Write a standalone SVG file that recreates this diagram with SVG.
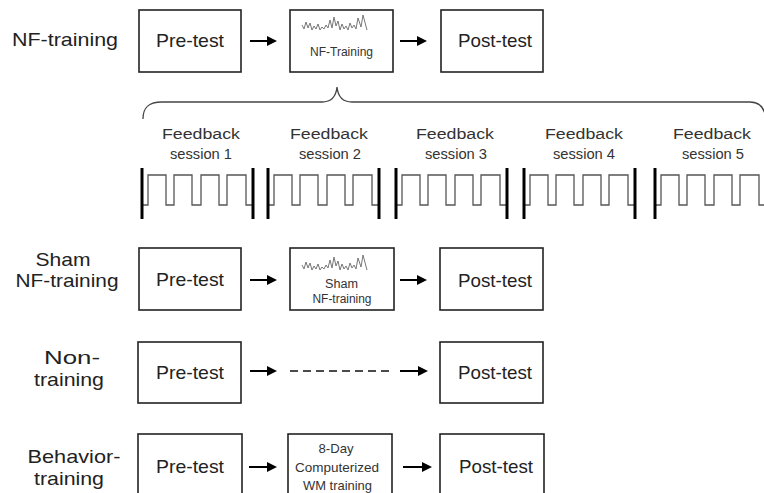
<svg xmlns="http://www.w3.org/2000/svg" xmlns:xlink="http://www.w3.org/1999/xlink" width="764" height="493" viewBox="0 0 764 493">
  <style>
    text { font-family: "Liberation Sans", Arial, sans-serif; fill: #222; }
    .lbl { font-size: 19px; text-anchor: middle; }
    .big { font-size: 19px; text-anchor: middle; }
    .small { font-size: 12px; text-anchor: middle; fill: #333; }
    .sess { font-size: 15.5px; text-anchor: middle; fill: #333; }
    .box { fill: #fff; stroke: #222; stroke-width: 1.6; }
    .arrow { stroke: #000; stroke-width: 2; fill: none; marker-end: url(#head); }
    .dash { stroke: #111; stroke-width: 1.6; stroke-dasharray: 8 5; fill: none; }
    .eeg { fill: none; stroke: #777; stroke-width: 1; stroke-linejoin: miter; }
    .brace { fill: none; stroke: #444; stroke-width: 1.3; }
    .pulse { fill: none; stroke: #555; stroke-width: 1.3; }
    .bar { stroke: #000; stroke-width: 3; }
  </style>
  <defs>
    <marker id="head" markerUnits="userSpaceOnUse" markerWidth="10" markerHeight="10" refX="5" refY="5" orient="auto">
      <path d="M0,0 L10,5 L0,10 Z" fill="#000"/>
    </marker>
    <!-- squiggly EEG trace shown inside the training boxes -->
    <path id="trace" class="eeg" d="M0,10 L2,14 L4,7 L6,13 L8,8 L10,15 L12,11 L14,14 L16,9 L18,15 L20,12 L22,14 L24,10 L26,13 L28,5 L30,13 L32,2 L34,11 L36,6 L38,15 L40,9 L42,14 L44,11 L46,15 L48,8 L50,13 L52,10 L54,14 L56,3 L59,12 L61,0 L65,15"/>
    <!-- one feedback session: block pulses between two thick bars -->
    <g id="session">
      <path class="pulse" d="M0,205 H6 V175 H24 V205 H32 V175 H50 V205 H59 V175 H77 V205 H85 V175 H104 V205 H111"/>
      <line class="bar" x1="0" y1="168" x2="0" y2="219"/>
      <line class="bar" x1="111" y1="168" x2="111" y2="219"/>
    </g>
  </defs>

  <rect width="764" height="493" fill="#fff"/>

  <!-- group labels -->
  <g id="labels">
    <text class="lbl" x="65" y="46" textLength="106" lengthAdjust="spacingAndGlyphs">NF-training</text>
    <text class="lbl" x="63" y="266" textLength="55" lengthAdjust="spacingAndGlyphs">Sham</text>
    <text class="lbl" x="67" y="287" textLength="103" lengthAdjust="spacingAndGlyphs">NF-training</text>
    <text class="lbl" x="72" y="364" textLength="56" lengthAdjust="spacingAndGlyphs">Non-</text>
    <text class="lbl" x="69" y="386" textLength="70" lengthAdjust="spacingAndGlyphs">training</text>
    <text class="lbl" x="74" y="463" textLength="93" lengthAdjust="spacingAndGlyphs">Behavior-</text>
    <text class="lbl" x="69" y="485" textLength="70" lengthAdjust="spacingAndGlyphs">training</text>
  </g>

  <!-- row 1: NF-training -->
  <g id="nf-pre">
    <rect class="box" x="139" y="10" width="102" height="62"/>
    <text class="big" x="190" y="47" textLength="68" lengthAdjust="spacingAndGlyphs">Pre-test</text>
  </g>
  <g id="nf-train">
    <rect class="box" x="290" y="10" width="103" height="62"/>
    <use xlink:href="#trace" x="302" y="15"/>
    <text class="small" x="341.5" y="56" textLength="63" lengthAdjust="spacingAndGlyphs">NF-Training</text>
  </g>
  <g id="nf-post">
    <rect class="box" x="441" y="10" width="102" height="62"/>
    <text class="big" x="495" y="47" textLength="74" lengthAdjust="spacingAndGlyphs">Post-test</text>
  </g>

  <!-- brace expanding the training block into sessions -->
  <g id="brace">
    <path class="brace" d="M143,119 C143,108 148,102 162,102 H322 C331,102 336,97 337,87 C338,97 343,102 352,102 H750 C758,102 763,106 765,114"/>
  </g>

  <!-- feedback sessions -->
  <g id="session-1">
    <text class="sess" x="201" y="139" textLength="78" lengthAdjust="spacingAndGlyphs">Feedback</text>
    <text class="sess" x="201" y="159" textLength="62" lengthAdjust="spacingAndGlyphs">session 1</text>
    <use xlink:href="#session" x="142"/>
  </g>
  <g id="session-2">
    <text class="sess" x="329" y="139" textLength="78" lengthAdjust="spacingAndGlyphs">Feedback</text>
    <text class="sess" x="330" y="159" textLength="62" lengthAdjust="spacingAndGlyphs">session 2</text>
    <use xlink:href="#session" x="268"/>
  </g>
  <g id="session-3">
    <text class="sess" x="455" y="139" textLength="78" lengthAdjust="spacingAndGlyphs">Feedback</text>
    <text class="sess" x="456" y="159" textLength="62" lengthAdjust="spacingAndGlyphs">session 3</text>
    <use xlink:href="#session" x="396"/>
  </g>
  <g id="session-4">
    <text class="sess" x="584" y="139" textLength="78" lengthAdjust="spacingAndGlyphs">Feedback</text>
    <text class="sess" x="584" y="159" textLength="62" lengthAdjust="spacingAndGlyphs">session 4</text>
    <use xlink:href="#session" x="524"/>
  </g>
  <g id="session-5">
    <text class="sess" x="712" y="139" textLength="78" lengthAdjust="spacingAndGlyphs">Feedback</text>
    <text class="sess" x="713" y="159" textLength="62" lengthAdjust="spacingAndGlyphs">session 5</text>
    <use xlink:href="#session" x="655"/>
  </g>

  <!-- row 2: sham NF-training -->
  <g id="sham-pre">
    <rect class="box" x="139" y="248" width="102" height="62"/>
    <text class="big" x="190" y="286" textLength="68" lengthAdjust="spacingAndGlyphs">Pre-test</text>
  </g>
  <g id="sham-train">
    <rect class="box" x="290" y="248" width="104" height="62"/>
    <use xlink:href="#trace" x="302" y="255"/>
    <text class="small" x="341.5" y="288" textLength="33" lengthAdjust="spacingAndGlyphs">Sham</text>
    <text class="small" x="342" y="303" textLength="59" lengthAdjust="spacingAndGlyphs">NF-training</text>
  </g>
  <g id="sham-post">
    <rect class="box" x="440" y="248" width="103" height="62"/>
    <text class="big" x="495" y="287" textLength="74" lengthAdjust="spacingAndGlyphs">Post-test</text>
  </g>

  <!-- row 3: non-training -->
  <g id="non-pre">
    <rect class="box" x="138" y="342" width="103" height="61"/>
    <text class="big" x="190" y="379" textLength="68" lengthAdjust="spacingAndGlyphs">Pre-test</text>
  </g>
  <g id="non-post">
    <rect class="box" x="440" y="342" width="103" height="61"/>
    <text class="big" x="495" y="379" textLength="74" lengthAdjust="spacingAndGlyphs">Post-test</text>
  </g>

  <!-- row 4: behavior-training -->
  <g id="beh-pre">
    <rect class="box" x="138" y="434" width="104" height="70"/>
    <text class="big" x="190" y="473" textLength="68" lengthAdjust="spacingAndGlyphs">Pre-test</text>
  </g>
  <g id="beh-train">
    <rect class="box" x="288" y="434" width="104" height="70"/>
    <text class="small" x="336" y="453" style="font-size:13px" textLength="35" lengthAdjust="spacingAndGlyphs">8-Day</text>
    <text class="small" x="337" y="472" style="font-size:13px" textLength="84" lengthAdjust="spacingAndGlyphs">Computerized</text>
    <text class="small" x="337.5" y="490" style="font-size:13px" textLength="69" lengthAdjust="spacingAndGlyphs">WM training</text>
  </g>
  <g id="beh-post">
    <rect class="box" x="440" y="434" width="104" height="70"/>
    <text class="big" x="496" y="473" textLength="74" lengthAdjust="spacingAndGlyphs">Post-test</text>
  </g>

  <!-- connectors -->
  <g id="connectors">
    <line class="arrow" x1="250" y1="41" x2="272" y2="41"/>
    <line class="arrow" x1="400" y1="41" x2="422" y2="41"/>
    <line class="arrow" x1="250" y1="280" x2="272" y2="280"/>
    <line class="arrow" x1="400" y1="280" x2="422" y2="280"/>
    <line class="arrow" x1="250" y1="371" x2="272" y2="371"/>
    <line class="dash" x1="290" y1="371" x2="389" y2="371"/>
    <line class="arrow" x1="400" y1="371" x2="423" y2="371"/>
    <line class="arrow" x1="249" y1="467" x2="272" y2="467"/>
    <line class="arrow" x1="403" y1="467" x2="427" y2="467"/>
  </g>
</svg>
